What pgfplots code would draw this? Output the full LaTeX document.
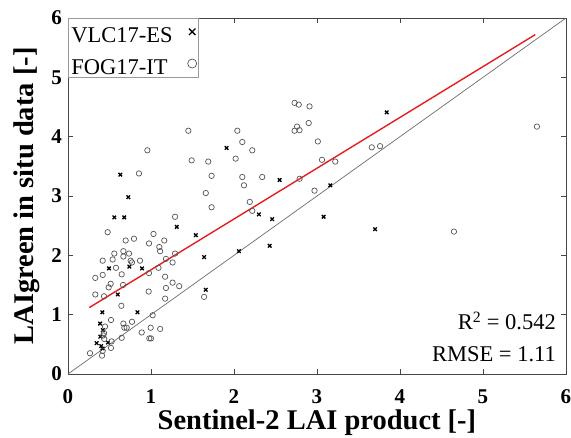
\documentclass[border=0pt]{standalone}
\usepackage{fontspec}
\setmainfont{Liberation Serif}
\usepackage{pgfplots}
\pgfplotsset{compat=1.18}
\definecolor{fitred}{RGB}{228,30,30}
\definecolor{circgray}{RGB}{85,85,85}
\definecolor{axgray}{RGB}{70,70,70}
\begin{document}
\begin{tikzpicture}
\begin{axis}[
  at={(0,0)}, anchor=south west,
  scale only axis, width=498pt, height=356pt,
  xmin=0, xmax=6, ymin=0, ymax=6,
  xtick={0,1,2,3,4,5,6}, ytick={0,1,2,3,4,5,6},
  axis line style={axgray, line width=0.9pt},
  tick style={axgray, line width=0.8pt},
  major tick length=5pt,
  /pgf/number format/assume math mode=true,
  ticklabel style={font=\bfseries\fontsize{21}{21}\selectfont},
  xticklabel style={anchor=base, yshift=-29pt},
  yticklabel style={anchor=east, inner sep=0pt, xshift=-6pt},
  xlabel={Sentinel-2 LAI product [-]},
  ylabel={LAIgreen in situ data [-]},
  label style={font=\bfseries\fontsize{28.5}{28.5}\selectfont},
  xlabel style={at={(axis description cs:0.5,-0.1545)}, anchor=base},
  ylabel style={at={(axis description cs:-0.0683,0.5)}, anchor=base},
  legend style={at={(0,1)}, anchor=north west, draw=gray!80, line width=0.6pt,
    font=\fontsize{22.5}{24}\selectfont, inner sep=2pt, row sep=8.7pt,
    column sep=8pt,
    nodes={font=\fontsize{22.5}{24}\selectfont, text height=21pt, text depth=0pt, inner sep=1pt},
    legend cell align=left},
  legend plot pos=right,
  legend image code/.code={\path (0pt,-5pt) (13pt,5pt);
    \draw[#1, mark size=4.5pt] plot coordinates {(10pt,0pt)};},
]
\addplot[only marks, mark=x, mark size=2.5pt, black, line width=1.3pt] table {
x y
0.727 2.98
0.558 2.64
0.678 2.64
1.31 2.48
1.54 2.34
1.64 1.97
2.06 2.07
0.494 1.78
0.739 1.81
0.892 1.78
0.60 1.34
1.66 1.42
0.414 1.04
0.837 1.04
0.386 0.85
0.42 0.74
0.39 0.63
0.345 0.52
0.418 0.43
0.40 0.47
0.482 0.53
2.30 2.69
0.63 3.36
1.91 3.81
3.84 4.41
2.55 3.27
3.16 3.18
3.70 2.44
3.08 2.65
2.43 2.16
2.46 2.61
};
\addlegendentry{VLC17-ES}
\addplot[only marks, mark=o, mark size=2.7pt, circgray, line width=0.7pt] table {
x y
1.45 4.10
2.04 4.10
2.10 3.91
2.22 3.77
2.02 3.63
1.49 3.60
1.69 3.58
0.956 3.77
0.855 3.38
1.73 3.34
2.10 3.32
2.12 3.18
2.73 4.57
2.78 4.54
2.91 4.51
2.90 4.23
2.76 4.17
2.73 4.10
2.79 4.11
3.01 3.92
3.66 3.82
3.76 3.84
3.06 3.61
3.22 3.58
2.34 3.32
2.79 3.29
2.97 3.09
5.65 4.17
4.65 2.40
1.66 3.05
1.73 2.81
0.478 2.39
1.29 2.65
0.695 2.25
0.795 2.28
1.03 2.36
0.976 2.20
1.16 2.25
1.10 2.14
1.11 2.07
1.29 2.03
0.558 2.03
0.667 2.07
0.735 2.03
0.667 1.98
0.538 1.93
0.418 1.91
0.755 1.91
0.771 1.88
0.867 1.91
1.18 1.94
1.26 1.88
0.578 1.79
0.647 1.68
0.418 1.67
0.329 1.62
0.976 1.70
1.09 1.79
1.17 1.64
0.514 1.52
0.663 1.50
0.490 1.46
1.18 1.45
1.26 1.54
1.34 1.48
0.972 1.39
0.329 1.34
0.434 1.31
1.17 1.27
1.64 1.30
0.643 1.15
0.518 0.91
0.667 0.85
0.771 0.88
0.679 0.78
0.707 0.78
1.02 0.99
0.996 0.78
1.11 0.76
0.888 0.70
0.98 0.60
1.00 0.60
0.647 0.61
0.425 0.65
0.437 0.59
0.526 0.55
0.518 0.44
0.418 0.39
0.410 0.31
0.265 0.35
0.434 0.69
0.446 0.80
2.19 2.90
2.22 2.75
};
\addlegendentry{FOG17-IT}
\addplot[forget plot, color=gray!85!black, line width=0.7pt] coordinates {(0,0) (6,6)};
\addplot[forget plot, color=fitred, line width=1.4pt] coordinates {(0.257,1.12) (5.63,5.72)};
\node[anchor=base east, inner sep=0pt, font=\fontsize{22.5}{22.5}\selectfont] at (axis description cs:0.98,0.124) {R\textsuperscript{2} = 0.542};
\node[anchor=base east, inner sep=0pt, font=\fontsize{22.5}{22.5}\selectfont] at (axis description cs:0.98,0.034) {RMSE = 1.11};
\end{axis}
\pgfresetboundingbox
\useasboundingbox (-68pt,-63pt) rectangle (503pt,374pt);
\end{tikzpicture}
\end{document}
